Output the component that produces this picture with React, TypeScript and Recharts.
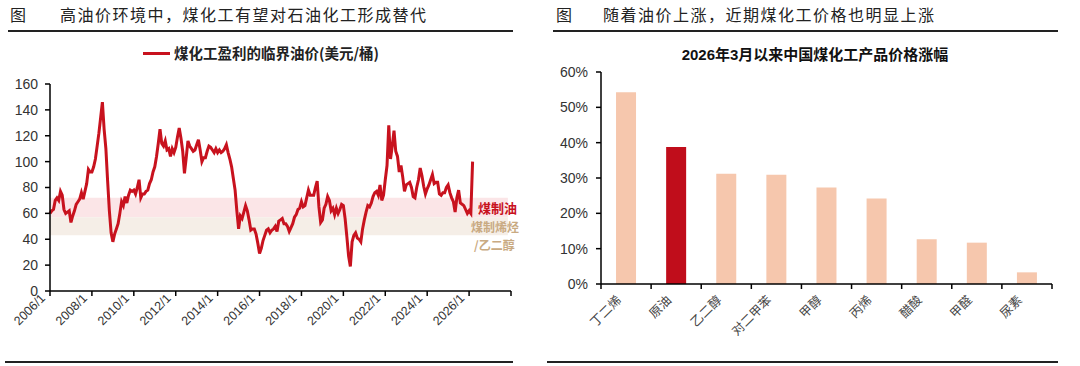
import React from 'react';
import {
  LineChart,
  Line,
  XAxis,
  YAxis,
  ReferenceArea,
  BarChart,
  Bar,
  Cell,
} from 'recharts';

// ---- left chart: monthly break-even oil price, USD/bbl ----
const firstYear = 2006;
const p2006 = [60, 62, 63, 70, 72, 70, 77, 74, 63, 60, 61, 62];
const p2007 = [53, 58, 62, 67, 69, 71, 76, 71, 77, 83, 94, 92];
const p2008 = [92, 96, 102, 112, 122, 134, 146, 125, 110, 85, 62, 45];
const p2009 = [38, 44, 48, 52, 60, 69, 66, 73, 68, 74, 78, 77];
const p2010 = [78, 75, 80, 86, 72, 75, 75, 77, 78, 83, 86, 92];
const p2011 = [96, 104, 114, 125, 114, 112, 116, 109, 110, 104, 110, 107];
const p2012 = [111, 119, 126, 118, 108, 91, 103, 116, 112, 110, 108, 109];
const p2013 = [113, 117, 109, 100, 103, 103, 108, 112, 111, 109, 107, 110];
const p2014 = [107, 109, 107, 108, 110, 113, 107, 102, 96, 87, 78, 62];
const p2015 = [48, 58, 56, 61, 66, 62, 55, 47, 48, 48, 44, 37];
const p2016 = [29, 33, 39, 43, 47, 48, 45, 47, 48, 50, 46, 54];
const p2017 = [55, 56, 52, 52, 50, 46, 49, 52, 57, 59, 63, 64];
const p2018 = [69, 65, 66, 72, 78, 74, 74, 74, 80, 85, 65, 53];
const p2019 = [55, 64, 67, 73, 70, 62, 64, 59, 64, 60, 63, 67];
const p2020 = [66, 56, 42, 27, 19, 38, 43, 45, 41, 40, 38, 48];
const p2021 = [55, 61, 66, 65, 68, 73, 76, 77, 74, 82, 70, 74];
const p2022 = [86, 97, 128, 102, 112, 124, 108, 104, 92, 97, 88, 77];
const p2023 = [82, 83, 84, 80, 73, 72, 80, 86, 95, 89, 81, 75];
const p2024 = [79, 82, 86, 90, 83, 84, 84, 75, 74, 76, 76, 80];
const p2025 = [82, 76, 72, 69, 61, 72, 78, 68, 67, 66, 63, 60];
const p2026 = [62, 60, 100];

const pricesByYear = [
  p2006, p2007, p2008, p2009, p2010, p2011, p2012, p2013, p2014, p2015, p2016,
  p2017, p2018, p2019, p2020, p2021, p2022, p2023, p2024, p2025, p2026,
];

const yearTicks = [2006, 2008, 2010, 2012, 2014, 2016, 2018, 2020, 2022, 2024, 2026, 2028];
const priceTicks = [0, 20, 40, 60, 80, 100, 120, 140, 160];

// break-even bands
const oilBand = [57, 72];
const olefinBand = [43, 57];

// ---- right chart: price change since 2026/3 ----
const products = ['丁二烯', '原油', '乙二醇', '对二甲苯', '甲醇', '丙烯', '醋酸', '甲醛', '尿素'];
const gains = [54.3, 38.8, 31.2, 30.9, 27.3, 24.2, 12.7, 11.7, 3.3];
const highlight = '原油';
const pctTicks = [0, 10, 20, 30, 40, 50, 60];

const lineData = pricesByYear.flatMap((vals, i) =>
  vals.map((v, m) => ({ t: firstYear + i + m / 12, price: v }))
);
const barData = products.map((name, i) => ({ name, gain: gains[i] }));

const RED = '#c8121e';
const PEACH = '#f6c7ad';
const NUM_FONT = '"Liberation Sans", Arial, "Noto Sans CJK SC", sans-serif';
const CJK_FONT = '"Noto Sans CJK SC", "Liberation Sans", sans-serif';
const axisStyle = { stroke: '#000', strokeWidth: 1.5 };

const BAR_PLOT_W = 451;

const YearTick = (props: any) => {
  const { x, y, payload } = props;
  const label = payload.value < 2028 ? `${payload.value}/1` : '';
  return (
    <g transform={`translate(${x - 4},${y + 1})`}>
      <text
        x={0}
        y={0}
        textAnchor="end"
        transform="rotate(-45)"
        fontSize={12.5}
        fill="#333"
        fontFamily={NUM_FONT}
      >
        {label}
      </text>
    </g>
  );
};

const ProductTick = (props: any) => {
  const { x, y, payload, index } = props;
  const bw = BAR_PLOT_W / products.length;
  const last = index === products.length - 1;
  return (
    <g>
      <line x1={x - bw / 2} x2={x - bw / 2} y1={y} y2={y + 5} {...axisStyle} />
      {last && <line x1={x + bw / 2} x2={x + bw / 2} y1={y} y2={y + 5} {...axisStyle} />}
      <g transform={`translate(${x - 4},${y + 17})`}>
        <text
          x={0}
          y={0}
          textAnchor="end"
          transform="rotate(-45)"
          fontSize={12.5}
          fill="#444"
          fontFamily={CJK_FONT}
        >
          {payload.value}
        </text>
      </g>
    </g>
  );
};

const abs = (s: React.CSSProperties): React.CSSProperties => ({ position: 'absolute', ...s });

export default function App() {
  return (
    <div
      style={abs({
        left: 0,
        top: 0,
        width: 1080,
        height: 366,
        background: '#fff',
        overflow: 'hidden',
        fontFamily: CJK_FONT,
      })}
    >
      {/* headers */}
      <div style={abs({ left: 10, top: 5, fontSize: 16, lineHeight: '18px', color: '#222' })}>图</div>
      <div style={abs({ left: 60, top: 5, fontSize: 16, lineHeight: '18px', color: '#222', letterSpacing: 1.5, whiteSpace: 'nowrap' })}>
        高油价环境中，煤化工有望对石油化工形成替代
      </div>
      <div style={abs({ left: 556, top: 5, fontSize: 16, lineHeight: '18px', color: '#222' })}>图</div>
      <div style={abs({ left: 603, top: 5, fontSize: 16, lineHeight: '18px', color: '#222', letterSpacing: 1.5, whiteSpace: 'nowrap' })}>
        随着油价上涨，近期煤化工价格也明显上涨
      </div>
      <div style={abs({ left: 8, top: 30, width: 505, height: 1.5, background: '#222' })} />
      <div style={abs({ left: 553, top: 30, width: 505, height: 1.5, background: '#222' })} />
      <div style={abs({ left: 5, top: 361, width: 508, height: 1.5, background: '#222' })} />
      <div style={abs({ left: 547, top: 361, width: 511, height: 1.5, background: '#222' })} />

      {/* left chart */}
      <div style={abs({ left: 0, top: 0 })}>
        <LineChart
          width={540}
          height={366}
          data={lineData}
          margin={{ top: 84, right: 29, bottom: 25, left: 0 }}
        >
          <ReferenceArea
            x1={2006}
            x2={2027.85}
            y1={oilBand[0]}
            y2={oilBand[1]}
            fill="#fbe5e7"
            fillOpacity={1}
            stroke="none"
          />
          <ReferenceArea
            x1={2006}
            x2={2027.85}
            y1={olefinBand[0]}
            y2={olefinBand[1]}
            fill="#f5eee7"
            fillOpacity={1}
            stroke="none"
          />
          <XAxis
            type="number"
            dataKey="t"
            domain={[2006, 2028]}
            ticks={yearTicks}
            interval={0}
            height={50}
            tickSize={5}
            tickMargin={2}
            tick={<YearTick />}
            axisLine={axisStyle}
            tickLine={axisStyle}
          />
          <YAxis
            type="number"
            domain={[0, 160]}
            ticks={priceTicks}
            interval={0}
            width={50}
            tickSize={5}
            tickMargin={7}
            tick={{ fontSize: 14, fill: '#333', fontFamily: NUM_FONT }}
            axisLine={axisStyle}
            tickLine={axisStyle}
          />
          <Line
            type="linear"
            dataKey="price"
            stroke={RED}
            strokeWidth={3}
            dot={false}
            isAnimationActive={false}
          />
        </LineChart>
      </div>

      {/* left legend */}
      <div style={abs({ left: 143, top: 51.5, width: 27, height: 3, background: RED })} />
      <div style={abs({ left: 174, top: 44, fontSize: 14.5, lineHeight: '18px', fontWeight: 700, color: '#222', whiteSpace: 'nowrap' })}>
        煤化工盈利的临界油价(美元/桶)
      </div>

      {/* band labels */}
      <div style={abs({ left: 478, top: 200.5, fontSize: 13, lineHeight: '14px', fontWeight: 700, color: RED, whiteSpace: 'nowrap' })}>
        煤制油
      </div>
      <div style={abs({ left: 471, top: 220, fontSize: 12, lineHeight: '13px', fontWeight: 700, color: '#c9aa82', whiteSpace: 'nowrap' })}>
        煤制烯烃
      </div>
      <div style={abs({ left: 474, top: 238, fontSize: 12, lineHeight: '13px', fontWeight: 700, color: '#c9aa82', whiteSpace: 'nowrap' })}>
        /乙二醇
      </div>

      {/* right chart */}
      <div style={abs({ left: 605, top: 45, width: 420, textAlign: 'center', fontSize: 15, lineHeight: '20px', fontWeight: 700, color: '#111', fontFamily: NUM_FONT })}>
        2026年3月以来中国煤化工产品价格涨幅
      </div>
      <div style={abs({ left: 540, top: 0 })}>
        <BarChart
          width={540}
          height={366}
          data={barData}
          margin={{ top: 72, right: 28, bottom: 22, left: 0 }}
          barCategoryGap="30%"
        >
          <XAxis
            dataKey="name"
            interval={0}
            height={60}
            tickSize={0}
            tickMargin={0}
            tickLine={false}
            tick={<ProductTick />}
            axisLine={axisStyle}
          />
          <YAxis
            type="number"
            domain={[0, 60]}
            ticks={pctTicks}
            interval={0}
            width={61}
            tickSize={5}
            tickMargin={8}
            tickFormatter={(v: number) => `${v}%`}
            tick={{ fontSize: 14, fill: '#333', fontFamily: NUM_FONT }}
            axisLine={axisStyle}
            tickLine={axisStyle}
          />
          <Bar dataKey="gain" isAnimationActive={false}>
            {barData.map((d) => (
              <Cell key={d.name} fill={d.name === highlight ? '#c00d1b' : PEACH} />
            ))}
          </Bar>
        </BarChart>
      </div>
    </div>
  );
}
